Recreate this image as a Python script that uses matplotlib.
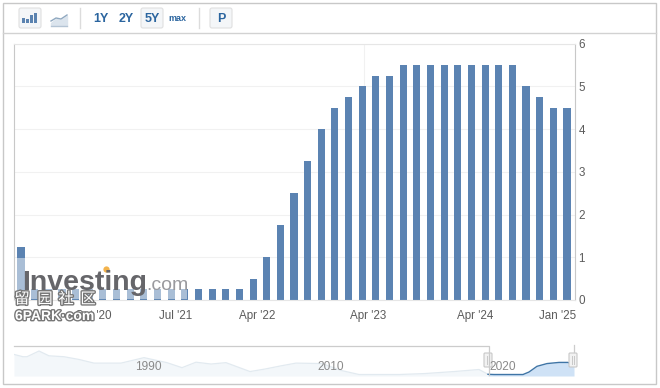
import matplotlib
matplotlib.use("Agg")
import matplotlib.pyplot as plt
from matplotlib.patches import Rectangle, FancyBboxPatch
import matplotlib.patheffects as pe

W, H = 660, 388
rates = [1.25] + [0.25] * 16 + [0.5, 1.0, 1.75, 2.5, 3.25, 4.0, 4.5, 4.75, 5.0, 5.25, 5.25] + [5.5] * 9 + [5.0, 4.75, 4.5, 4.5]
tick_labels = ["Oct '20", "Jul '21", "Apr '22", "Apr '23", "Apr '24", "Jan '25"]
tick_index = [5.3, 11.3, 17.3, 25.4, 33.3, 39.3]
grid_index = [5.3, 11.3, 17.3, 25.1, 33.3, 39.3]
y_ticks = [0, 1, 2, 3, 4, 5, 6]

nav_pos = [0, 9, 13, 25, 35, 50, 65, 80, 107, 130, 153, 168, 182, 197, 212, 236, 251, 267, 282, 308, 327, 345, 362, 385, 410, 440, 465, 474]
nav_rate = [9.0, 8.0, 8.0, 10.5, 8.4, 8.0, 6.8, 5.2, 5.2, 7.6, 5.4, 3.2, 5.6, 4.8, 5.4, 1.5, 2.6, 4.0, 5.2, 5.0, 2.0, 0.2, 0.2, 0.2, 0.6, 1.5, 2.4, 0.3]
sel_pos = [474, 480, 490, 509, 515, 523, 533, 545, 554, 557, 560]
sel_rate = [0.3, 0.2, 0.2, 0.2, 1.3, 3.8, 5.0, 5.5, 5.5, 5.0, 4.5]
nav_labels = ["1990", "2010", "2020"]

plt.rcParams["font.family"] = ["Liberation Sans", "DejaVu Sans"]
fig = plt.figure(figsize=(W / 100, H / 100), dpi=100, facecolor="white")

def box(l, t, r, b):
    return [l / W, 1 - b / H, (r - l) / W, (b - t) / H]

# page chrome, in pixel space
bg = fig.add_axes([0, 0, 1, 1], zorder=0)
bg.set_xlim(0, W); bg.set_ylim(H, 0); bg.axis("off")
bg.add_patch(Rectangle((3, 3), 653, 381, fc="white", ec="#c8c8c8", lw=1.0))
bg.plot([3, 656], [33, 33], color="#d2d2d2", lw=1)
for x in (80, 199):
    bg.plot([x, x], [8, 28], color="#dcdcdc", lw=1)
for x, w in ((19, 22), (141, 22), (210, 22)):
    bg.add_patch(FancyBboxPatch((x, 8), w, 20, boxstyle="round,pad=0,rounding_size=2",
                                fc="#f4f6f8", ec="#e0e0e0", lw=0.8))
for x, h in ((22, 5), (26, 4), (30, 8), (34, 10)):
    bg.add_patch(Rectangle((x, 23 - h), 3, h, fc="#5b83b0", ec="none"))
bg.fill_between([51, 56, 61, 67], [23, 19, 20, 16], [25, 25, 25, 25], color="#dbe4ed")
bg.plot([51, 56, 61, 67], [21, 18, 19, 15], color="#8fa8c0", lw=1)
bg.plot([51, 67], [25.5, 25.5], color="#b4c4d4", lw=1)
btn = dict(color="#2b659f", fontweight="bold", ha="center", va="center")
bg.text(101, 18.5, "1Y", fontsize=9, **btn)
bg.text(126, 18.5, "2Y", fontsize=9, **btn)
bg.text(152, 18.5, "5Y", fontsize=9, **btn)
bg.text(177, 18.5, "max", fontsize=6.5, **btn)
bg.text(221, 18.5, "P", fontsize=9, **btn)

# main bar chart
ax = fig.add_axes(box(13.5, 43.5, 574.5, 300), zorder=1)
ax.set_facecolor("none")
ax.bar(range(len(rates)), rates, width=0.52, color="#5b83b2", zorder=2)
ax.set_xlim(-0.55, 40.55)
ax.set_ylim(0, 6)
for s in ("top", "bottom"):
    ax.spines[s].set_color("#e6e6e6"); ax.spines[s].set_linewidth(0.8)
ax.spines["left"].set_color("#c8c8c8")
ax.spines["right"].set_color("#c8c8c8")
ax.yaxis.tick_right()
ax.set_yticks(y_ticks)
ax.set_xticks(tick_index, tick_labels)
ax.set_xticks(grid_index, minor=True)
ax.tick_params(axis="x", which="major", length=0, pad=7.5, labelsize=8.4, labelcolor="#5c5c5c")
ax.tick_params(axis="x", which="minor", length=0)
ax.tick_params(axis="y", length=0, pad=3, labelsize=8.4, labelcolor="#5c5c5c")
ax.grid(True, axis="y", color="#f1f1f1", lw=0.8, zorder=0)
ax.grid(True, axis="x", which="minor", color="#f1f1f1", lw=0.8, zorder=0)

# navigator
nav = fig.add_axes(box(14, 346, 574, 376), zorder=1)
nav.set_xlim(0, 560)
nav.set_ylim(-0.45, 12.7)
nav.axis("off")
nav.fill_between(nav_pos, nav_rate, -0.45, color="#f3f7fa", lw=0)
nav.plot(nav_pos, nav_rate, color="#e2eaf0", lw=0.9)
nav.fill_between(sel_pos, sel_rate, -0.45, color="#cfe2f6", lw=0)
nav.plot(sel_pos, sel_rate, color="#3f75a6", lw=1)
for x, label in zip((148, 331, 503), nav_labels):
    fig.text(x / W, 1 - 367 / H, label, fontsize=8.6, color="#8a8a8a",
             ha="center", va="center", zorder=5)

# overlay: navigator outline, handles, watermarks
top = fig.add_axes([0, 0, 1, 1], zorder=3)
top.set_xlim(0, W); top.set_ylim(H, 0); top.axis("off")
top.plot([14, 489, 489], [346, 346, 375], color="#cccccc", lw=0.9)
top.plot([573.5, 573.5], [345, 352], color="#cccccc", lw=0.9)
for x in (484, 569):
    top.add_patch(FancyBboxPatch((x, 353), 8, 14, boxstyle="round,pad=0,rounding_size=1",
                                 fc="#f2f2f2", ec="#c8c8c8", lw=0.8))
    top.plot([x + 3, x + 3], [356, 364], color="#c8c8c8", lw=0.7)
    top.plot([x + 5, x + 5], [356, 364], color="#c8c8c8", lw=0.7)
# pale veil from the logo watermark over the first bars
top.add_patch(Rectangle((14.5, 258), 172, 41, fc="white", ec="none", alpha=0.48))
top.text(22, 282.5, "Investing", fontsize=20.5, fontweight="bold", color="#66666a",
         ha="left", va="center")
top.text(146, 285, ".com", fontsize=14, color="#9a9a9e", ha="left", va="center")
top.plot([106], [268.5], marker="o", ms=4.5, color="#f3b34c", mew=0)
halo = [pe.withStroke(linewidth=2, foreground="#777777")]
for x, ch in zip((22, 45, 66, 88), "留园社区"):
    top.text(x, 299, ch, fontsize=11, color="white", ha="center", va="center",
             family=["Noto Sans CJK SC", "DejaVu Sans"], path_effects=halo)
top.text(15, 316, "6PARK·com", fontsize=10, color="white", fontweight="bold",
         ha="left", va="center", path_effects=halo)

fig.savefig("out.png", dpi=100, facecolor="white")
